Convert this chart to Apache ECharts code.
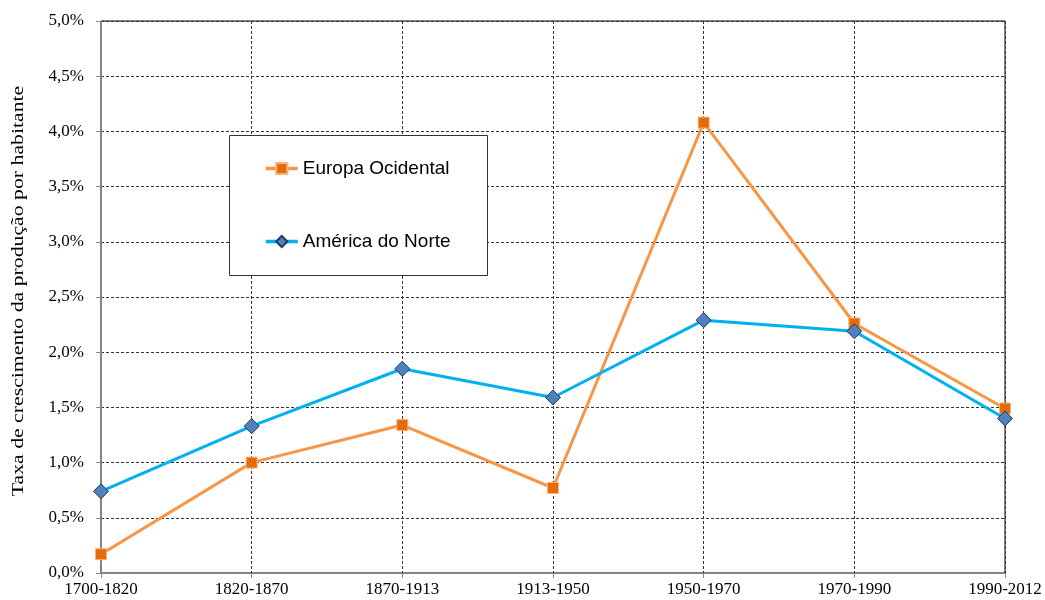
<!DOCTYPE html>
<html>
<head>
<meta charset="utf-8">
<script src="https://cdn.jsdelivr.net/npm/echarts@6/dist/echarts.min.js"></script>
<style>
  html, body { margin: 0; padding: 0; background: #fff; }
  #main { width: 1045px; height: 600px; }
</style>
</head>
<body>
<div id="main"></div>
<script>
var periods = ['1700-1820', '1820-1870', '1870-1913', '1913-1950', '1950-1970', '1970-1990', '1990-2012'];
var europaOcidental = [0.17, 1.00, 1.34, 0.77, 4.08, 2.26, 1.49];
var americaDoNorte = [0.74, 1.33, 1.85, 1.59, 2.29, 2.19, 1.40];
var yTitle = 'Taxa de crescimento da produção por habitante';

var serif = '"Liberation Serif", "Times New Roman", serif';
var sans = '"Liberation Sans", Arial, sans-serif';

var chart = echarts.init(document.getElementById('main'));
chart.setOption({
  animation: false,
  backgroundColor: '#fff',
  grid: {
    left: 101, right: 40, top: 21, bottom: 27,
    outerBoundsMode: 'none',
    show: true, borderColor: '#000', borderWidth: 1
  },
  graphic: [{
    type: 'rect',
    left: 229, top: 135,
    shape: { width: 258, height: 140 },
    style: { fill: '#fff', stroke: '#333', lineWidth: 1 },
    z: 10
  }, {
    // y axis title, stretched along its length like the original
    type: 'text',
    x: 19, y: 291,
    rotation: Math.PI / 2,
    scaleX: 1.36,
    style: {
      text: yTitle,
      fontFamily: serif, fontSize: 16, fill: '#000',
      align: 'center', verticalAlign: 'middle'
    },
    z: 10
  }],
  legend: {
    orient: 'vertical',
    left: 264, top: 159,
    padding: 0,
    itemGap: 54,
    itemWidth: 32, itemHeight: 14,
    z: 20,
    lineStyle: { width: 3.5 },
    textStyle: { fontFamily: sans, fontSize: 19, color: '#000' },
    data: ['Europa Ocidental', 'América do Norte']
  },
  xAxis: {
    type: 'category',
    boundaryGap: false,
    data: periods,
    axisLine: { lineStyle: { color: '#888', width: 1 } },
    axisTick: { show: true, length: 5, lineStyle: { color: '#888' } },
    axisLabel: { fontFamily: serif, fontSize: 17, color: '#000', margin: 8 },
    splitLine: { show: true, lineStyle: { color: '#333', type: [3, 2], width: 1 } }
  },
  yAxis: {
    type: 'value',
    min: 0, max: 5, interval: 0.5,
    axisLine: { show: true, lineStyle: { color: '#888', width: 1 } },
    axisTick: { show: true, length: 5, lineStyle: { color: '#888' } },
    axisLabel: {
      fontFamily: serif, fontSize: 17, color: '#000', margin: 17,
      formatter: function (v) { return v.toFixed(1).replace('.', ',') + '%'; }
    },
    splitLine: { show: true, lineStyle: { color: '#333', type: [3, 2], width: 1 } }
  },
  series: [{
    name: 'Europa Ocidental',
    type: 'line',
    data: europaOcidental,
    symbol: 'rect',
    symbolSize: 11,
    lineStyle: { color: '#F79646', width: 3 },
    itemStyle: { color: '#E36C09', borderColor: '#F9B47E', borderWidth: 1 },
    z: 3
  }, {
    name: 'América do Norte',
    type: 'line',
    data: americaDoNorte,
    symbol: 'diamond',
    symbolSize: 15,
    lineStyle: { color: '#00B0F0', width: 3 },
    itemStyle: { color: '#4F81BD', borderColor: '#1F3864', borderWidth: 1 },
    z: 4
  }]
});
</script>
</body>
</html>
